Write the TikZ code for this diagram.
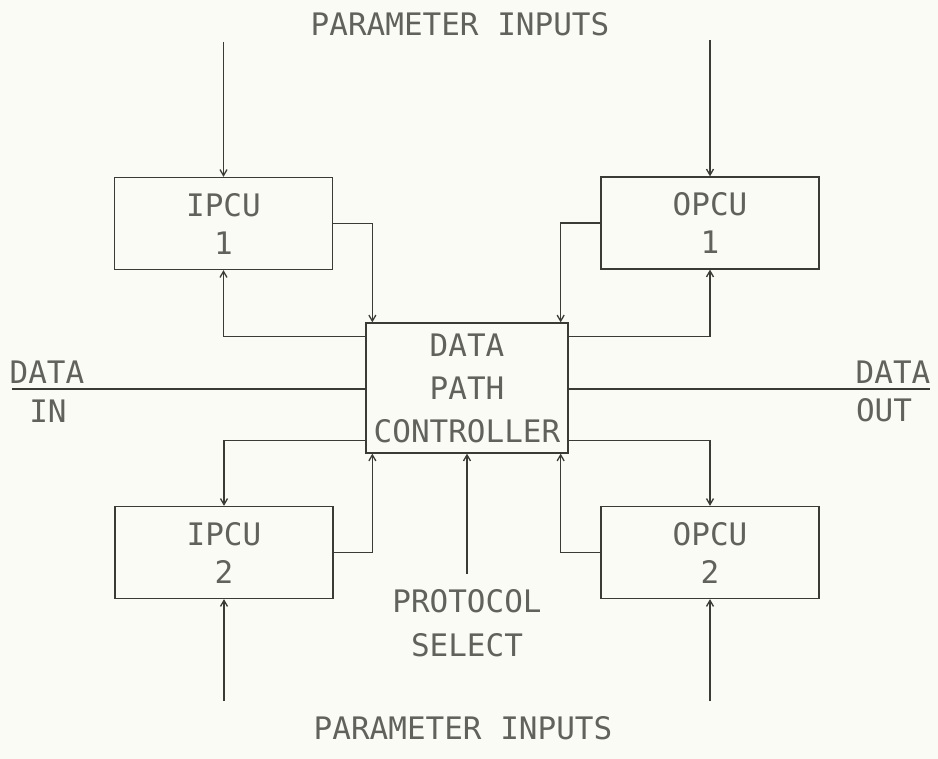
\documentclass[tikz,border=0pt]{standalone}
\usepackage{fontspec}
\newfontfamily\plotfont{DejaVu Sans Mono}
\usetikzlibrary{arrows.meta,calc}
\definecolor{paper}{HTML}{FBFBF5}
\definecolor{ink}{HTML}{3A3A36}
\definecolor{txt}{HTML}{62625D}
\tikzset{
  unit/.style={draw=ink, line width=1.3pt, minimum width=218pt, minimum height=92pt,
    align=center, text=txt, font=\plotfont\fontsize{31}{38}\selectfont, inner sep=0pt},
  ctrl/.style={draw=ink, line width=1.3pt, minimum width=202pt, minimum height=130pt,
    align=center, text=txt, font=\plotfont\fontsize{31}{43}\selectfont, inner sep=0pt},
  lbl/.style={text=txt, font=\plotfont\fontsize{31}{44}\selectfont, align=center, inner sep=2pt},
  wire/.style={draw=ink, line width=1.3pt},
  arr/.style={wire, -{Straight Barb[length=6pt,width=7pt]}},
}
\begin{document}
\begin{tikzpicture}[x=1pt,y=-1pt]
\fill[paper] (0,0) rectangle (938,759);
\useasboundingbox (0,0) rectangle (938,759);

% boxes
\node[unit] (ipcu1) at (223.5,223.5) {IPCU\\1};
\node[unit] (opcu1) at (710,223) {OPCU\\1};
\node[unit] (ipcu2) at (224,552.5) {IPCU\\2};
\node[unit] (opcu2) at (710,552.5) {OPCU\\2};
\node[ctrl] (dpc) at (467,388) {DATA\\PATH\\CONTROLLER};

% labels
\node[lbl] (ptop) at (460,24) {PARAMETER INPUTS};
\node[lbl] (pbot) at (463,728) {PARAMETER INPUTS};
\node[lbl] (proto) at (467,623) {PROTOCOL\\SELECT};
\node[lbl] (din) at (47,372) {DATA};
\node[lbl] (dinb) at (48,411) {IN};
\node[lbl] (dout) at (893,372) {DATA};
\node[lbl] (doutb) at (884,410) {OUT};

% free ends
\coordinate (t1) at ($(ipcu1.north)+(0,-135)$);
\coordinate (t2) at ($(opcu1.north)+(0,-136)$);
\coordinate (b1) at ($(ipcu2.south)+(0,102)$);
\coordinate (b2) at ($(opcu2.south)+(0,102)$);
\coordinate (inL) at (12,389);
\coordinate (outR) at (930,389);
\coordinate (ps) at ($(proto.north)+(0,-13)$);

% parameter inputs
\draw[arr] (t1) -- (ipcu1.north);
\draw[arr] (t2) -- (opcu1.north);
\draw[arr] (b1) -- (ipcu2.south);
\draw[arr] (b2) -- (opcu2.south);

% data in / out
\draw[wire] (inL) -- (inL -| dpc.west);
\draw[wire] (dpc.east |- outR) -- (outR);

% IPCU 1 <-> DPC
\draw[arr] (ipcu1.east) -| ($(dpc.north west)+(7,0)$);
\draw[arr] ($(dpc.north west)+(0,14)$) -| (ipcu1.south);
% OPCU 1 <-> DPC
\draw[arr] (opcu1.west) -| ($(dpc.north east)+(-8,0)$);
\draw[arr] ($(dpc.north east)+(0,14)$) -| (opcu1.south);
% IPCU 2 <-> DPC
\draw[arr] ($(dpc.south west)+(0,-13)$) -| (ipcu2.north);
\draw[arr] (ipcu2.east) -| ($(dpc.south west)+(7,0)$);
% OPCU 2 <-> DPC
\draw[arr] ($(dpc.south east)+(0,-13)$) -| (opcu2.north);
\draw[arr] (opcu2.west) -| ($(dpc.south east)+(-8,0)$);
% protocol select
\draw[arr] (ps) -- (dpc.south);
\end{tikzpicture}
\end{document}
